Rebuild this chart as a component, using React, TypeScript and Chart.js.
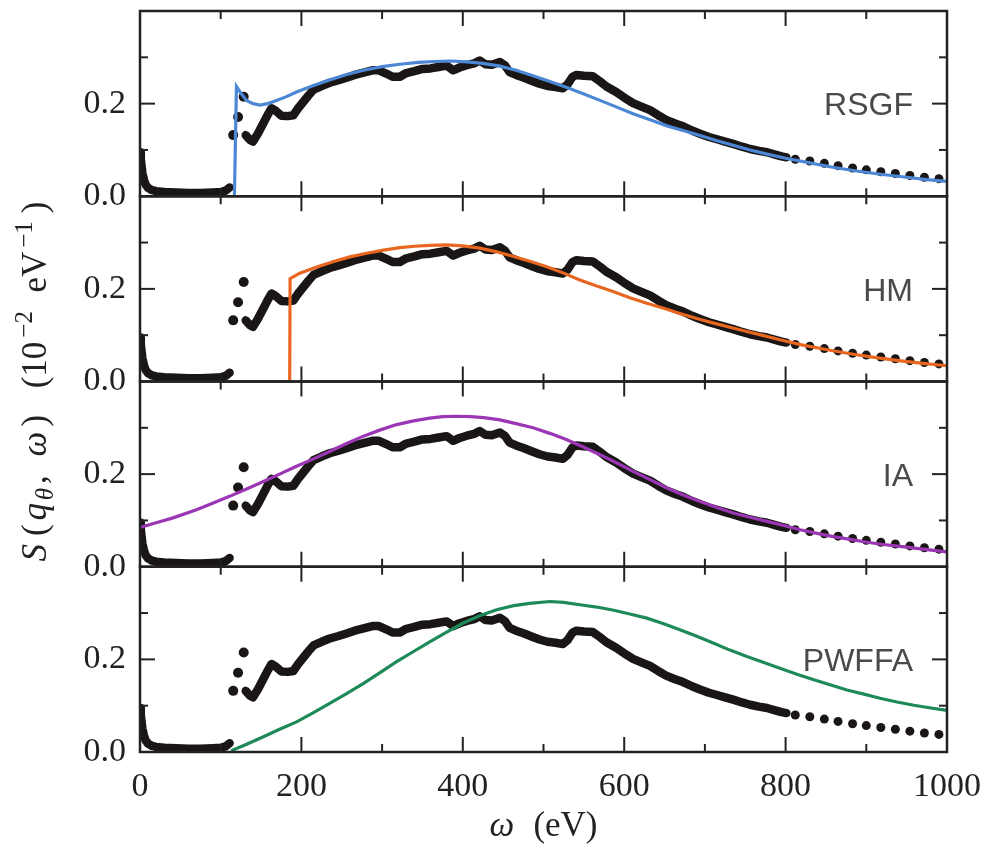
import { useEffect, useRef } from 'react';
import { Chart, registerables } from 'chart.js';

Chart.register(...registerables);

// ---------- data ----------
const xTickValues = [0, 200, 400, 600, 800, 1000];
const yLabelValues = [0, 0.2];
const panelNames = ['RSGF', 'HM', 'IA', 'PWFFA'];
const panelColors = ['#4b87d5', '#e8661f', '#9b36b4', '#1d8a58'];

// experimental data (same in every panel)
const expLowX = [0, 1, 2, 3, 5, 7, 10, 15, 20, 30, 45, 60, 75, 90, 100, 106, 111];
const expLowY = [0.095, 0.08, 0.065, 0.05, 0.035, 0.025, 0.018, 0.013, 0.011, 0.009, 0.008, 0.007, 0.007, 0.008, 0.009, 0.012, 0.019];

const expIsoX = [115.5, 121.5, 128.5];
const expIsoY = [0.132, 0.171, 0.215];

const expMainX = [131, 136, 140, 146, 152, 158, 163, 168, 175, 183, 190, 196, 202, 209, 215, 225, 235, 245, 256, 266, 277, 288, 296, 305, 313, 322, 330, 340, 350, 360, 370, 380, 388, 396, 405, 414, 421, 428, 436, 446, 452, 458, 466, 476, 486, 495, 505, 515, 524, 530, 536, 541, 550, 561, 570, 578, 590, 600, 611, 622, 632, 642, 652, 663, 673, 684, 694, 705, 715, 725, 735, 746, 756, 767, 777, 787, 795, 801];
const expMainY = [0.132, 0.122, 0.118, 0.135, 0.155, 0.175, 0.19, 0.185, 0.174, 0.173, 0.175, 0.19, 0.203, 0.218, 0.23, 0.238, 0.245, 0.25, 0.256, 0.262, 0.267, 0.272, 0.272, 0.265, 0.258, 0.258, 0.266, 0.27, 0.275, 0.276, 0.279, 0.282, 0.272, 0.278, 0.283, 0.287, 0.293, 0.285, 0.284, 0.29, 0.283, 0.268, 0.262, 0.256, 0.249, 0.243, 0.238, 0.236, 0.233, 0.242, 0.258, 0.262, 0.26, 0.259, 0.248, 0.237, 0.225, 0.213, 0.201, 0.193, 0.186, 0.175, 0.165, 0.157, 0.151, 0.142, 0.135, 0.128, 0.123, 0.118, 0.113, 0.107, 0.102, 0.098, 0.095, 0.09, 0.086, 0.084];

const expTailX = [812, 830, 848, 865, 883, 900, 918, 936, 954, 972, 990];
const expTailY = [0.08, 0.076, 0.071, 0.066, 0.061, 0.057, 0.053, 0.049, 0.045, 0.041, 0.038];

// model curves
const rsgfX = [117, 119.5, 126, 132, 140, 149, 158, 165, 180, 194, 215, 235, 256, 277, 300, 322, 345, 365, 385, 405, 425, 446, 466, 487, 508, 529, 550, 570, 590, 611, 632, 653, 673, 694, 715, 735, 756, 777, 800, 830, 860, 890, 920, 950, 975, 1000];
const rsgfY = [0, 0.237, 0.22, 0.207, 0.2, 0.197, 0.2, 0.204, 0.214, 0.225, 0.239, 0.251, 0.263, 0.272, 0.28, 0.285, 0.289, 0.291, 0.292, 0.29, 0.287, 0.281, 0.272, 0.26, 0.248, 0.235, 0.221, 0.207, 0.193, 0.178, 0.165, 0.152, 0.142, 0.131, 0.12, 0.11, 0.1, 0.091, 0.082, 0.072, 0.062, 0.054, 0.047, 0.041, 0.036, 0.032];

const hmX = [185.5, 186, 198, 220, 240, 260, 281, 300, 322, 340, 360, 380, 400, 421, 442, 463, 484, 504, 525, 545, 566, 587, 607, 628, 649, 669, 690, 711, 731, 752, 773, 793, 820, 850, 880, 910, 940, 970, 1000];
const hmY = [0, 0.222, 0.234, 0.248, 0.259, 0.269, 0.277, 0.283, 0.289, 0.292, 0.294, 0.295, 0.293, 0.288, 0.28, 0.27, 0.259, 0.248, 0.234, 0.219, 0.206, 0.194, 0.181, 0.169, 0.158, 0.147, 0.136, 0.126, 0.117, 0.108, 0.099, 0.09, 0.079, 0.069, 0.06, 0.052, 0.045, 0.039, 0.034];

const iaX = [0, 20, 40, 70, 90, 111, 132, 153, 173, 194, 215, 235, 256, 277, 297, 318, 339, 359, 375, 392, 410, 426, 446, 466, 487, 508, 529, 550, 570, 591, 611, 632, 653, 673, 694, 715, 735, 756, 777, 798, 818, 839, 859, 880, 901, 921, 942, 970, 1000];
const iaY = [0.085, 0.095, 0.105, 0.123, 0.137, 0.152, 0.168, 0.184, 0.2, 0.217, 0.233, 0.249, 0.266, 0.282, 0.295, 0.307, 0.315, 0.321, 0.324, 0.325, 0.324, 0.322, 0.317, 0.309, 0.3, 0.288, 0.274, 0.258, 0.242, 0.224, 0.206, 0.188, 0.17, 0.155, 0.141, 0.128, 0.116, 0.107, 0.098, 0.089, 0.08, 0.072, 0.065, 0.059, 0.053, 0.048, 0.044, 0.038, 0.032];

const pwffaX = [113, 130, 153, 173, 194, 215, 235, 256, 277, 297, 318, 339, 359, 380, 400, 421, 442, 463, 483, 508, 525, 545, 566, 587, 607, 628, 649, 669, 690, 711, 731, 752, 773, 793, 814, 835, 855, 876, 897, 917, 938, 959, 980, 1000];
const pwffaY = [0.003, 0.015, 0.033, 0.049, 0.065, 0.085, 0.105, 0.126, 0.148, 0.171, 0.195, 0.217, 0.238, 0.259, 0.278, 0.294, 0.307, 0.316, 0.321, 0.325, 0.323, 0.318, 0.313, 0.306, 0.298, 0.289, 0.277, 0.264, 0.25, 0.235, 0.22, 0.206, 0.193, 0.181, 0.168, 0.156, 0.145, 0.134, 0.125, 0.116, 0.108, 0.101, 0.095, 0.09];

const modelX = [rsgfX, hmX, iaX, pwffaX];
const modelY = [rsgfY, hmY, iaY, pwffaY];

const zip = (xs: number[], ys: number[]) => xs.map((x, i) => ({ x, y: ys[i] }));

const DOT = '#1a1616';
const FRAME = '#222222';
const SERIF = '"Liberation Serif", "DejaVu Serif", serif';
const SANS = '"Liberation Sans", Arial, sans-serif';

// g = relative weight of extra spacing placed before the part
type Part = { t: string; font: string; dy: number; g: number };

function drawParts(ctx: CanvasRenderingContext2D, parts: Part[], cx: number, cy: number, target: number, rotate: boolean) {
  ctx.save();
  ctx.translate(cx, cy);
  if (rotate) ctx.rotate(-Math.PI / 2);
  const widths = parts.map((p) => {
    ctx.font = p.font;
    return ctx.measureText(p.t).width;
  });
  const natural = widths.reduce((a, b) => a + b, 0);
  const wsum = parts.reduce((a, p) => a + p.g, 0);
  const unit = wsum > 0 ? Math.max(0, (target - natural) / wsum) : 0;
  const total = natural + unit * wsum;
  let x = -total / 2;
  ctx.textAlign = 'left';
  ctx.textBaseline = 'alphabetic';
  ctx.fillStyle = '#222';
  parts.forEach((p, i) => {
    x += p.g * unit;
    ctx.font = p.font;
    ctx.fillText(p.t, x, p.dy);
    x += widths[i];
  });
  ctx.restore();
}

const panelIds = ['y1', 'y2', 'y3', 'y4'];

const decoPlugin = {
  id: 'deco',
  afterDraw(chart: any) {
    const ctx: CanvasRenderingContext2D = chart.ctx;
    const xs = chart.scales.x;
    const { left, right } = chart.chartArea;
    ctx.save();
    const line = (x1: number, y1: number, x2: number, y2: number) => {
      ctx.beginPath();
      ctx.moveTo(x1, y1);
      ctx.lineTo(x2, y2);
      ctx.stroke();
    };
    panelIds.forEach((id, i) => {
      const ys = chart.scales[id];
      const top = ys.top;
      const bottom = ys.bottom;
      ctx.strokeStyle = FRAME;
      ctx.lineWidth = 2;
      for (let v = 0; v <= 1000; v += 100) {
        const px = xs.getPixelForValue(v);
        const len = v % 200 === 0 ? 15 : 8;
        line(px, top, px, top + len);
        line(px, bottom, px, bottom - len);
      }
      [0.1, 0.2, 0.3].forEach((v) => {
        const py = ys.getPixelForValue(v);
        const len = Math.abs(v - 0.2) < 1e-9 ? 15 : 8;
        line(left, py, left + len, py);
        line(right, py, right - len, py);
      });
      ctx.lineWidth = 2.5;
      ctx.strokeRect(left, top, right - left, bottom - top);
      ctx.font = '32px ' + SANS;
      ctx.fillStyle = '#4a4a4a';
      ctx.textAlign = 'right';
      ctx.textBaseline = 'middle';
      ctx.fillText(panelNames[i], right - 34, ys.getPixelForValue(0.2) + 3);
    });

    const f = 35;
    const it = `italic ${f}px ${SERIF}`;
    const up = `${f}px ${SERIF}`;
    const smIt = `italic ${Math.round(f * 0.7)}px ${SERIF}`;
    const smUp = `${Math.round(f * 0.7)}px ${SERIF}`;
    // y-axis title
    const yParts: Part[] = [
      { t: 'S', font: it, dy: 0, g: 0 },
      { t: '(', font: up, dy: 0, g: 0.6 },
      { t: 'q', font: it, dy: 0, g: 0.3 },
      { t: 'θ', font: smIt, dy: 7, g: 0.2 },
      { t: ',', font: up, dy: 0, g: 0.3 },
      { t: 'ω', font: it, dy: 0, g: 1.4 },
      { t: ')', font: up, dy: 0, g: 0.4 },
      { t: '(10', font: up, dy: 0, g: 2 },
      { t: '−2', font: smUp, dy: -14, g: 0.3 },
      { t: 'eV', font: up, dy: 0, g: 1.4 },
      { t: '−1', font: smUp, dy: -14, g: 0.3 },
      { t: ')', font: up, dy: 0, g: 0.6 },
    ];
    drawParts(ctx, yParts, 46, (chart.chartArea.top + chart.chartArea.bottom) / 2, 360, true);
    // x-axis title
    const xParts: Part[] = [
      { t: 'ω', font: it, dy: 0, g: 0 },
      { t: ' (eV)', font: up, dy: 0, g: 1 },
    ];
    drawParts(ctx, xParts, (left + right) / 2, 836, 108, false);
    ctx.restore();
  },
};

export default function App() {
  const ref = useRef<HTMLCanvasElement>(null);

  useEffect(() => {
    if (!ref.current) return;
    const datasets: any[] = [];
    panelIds.forEach((id, i) => {
      datasets.push({
        type: 'line',
        label: panelNames[i],
        data: zip(modelX[i], modelY[i]),
        yAxisID: id,
        xAxisID: 'x',
        borderColor: panelColors[i],
        borderWidth: 3.2,
        pointRadius: 0,
        tension: 0,
        order: 0,
      });
      const band = {
        type: 'line',
        yAxisID: id,
        xAxisID: 'x',
        borderColor: DOT,
        borderWidth: 8.5,
        borderJoinStyle: 'round',
        borderCapStyle: 'round',
        pointRadius: 0,
        tension: 0,
        order: 1,
      };
      datasets.push({ ...band, label: 'exp low', data: zip(expLowX, expLowY) });
      datasets.push({ ...band, label: 'exp main', data: zip(expMainX, expMainY) });
      const dots = {
        type: 'line',
        yAxisID: id,
        xAxisID: 'x',
        showLine: false,
        pointBorderWidth: 0,
        pointBackgroundColor: DOT,
        pointBorderColor: DOT,
        order: 1,
      };
      datasets.push({ ...dots, pointRadius: 5, label: 'exp iso', data: zip(expIsoX, expIsoY) });
      datasets.push({ ...dots, pointRadius: 4.5, label: 'exp tail', data: zip(expTailX, expTailY) });
    });

    const noPad = (s: any) => {
      s.paddingTop = 0;
      s.paddingBottom = 0;
      s.paddingLeft = 0;
      s.paddingRight = 0;
    };

    const scales: any = {
      x: {
        type: 'linear',
        position: 'bottom',
        min: 0,
        max: 1000,
        afterBuildTicks: (s: any) => {
          s.ticks = xTickValues.map((v) => ({ value: v }));
        },
        ticks: {
          autoSkip: false,
          maxRotation: 0,
          padding: 15,
          color: '#222',
          font: { family: SERIF, size: 34 },
          callback: (v: any) => String(v),
        },
        grid: { display: false, drawTicks: false, tickLength: 0 },
        border: { display: false },
        afterFit: (s: any) => {
          s.height = 100;
          noPad(s);
        },
      },
    };
    panelIds.forEach((id, i) => {
      scales[id] = {
        type: 'linear',
        position: 'left',
        stack: 'panels',
        stackWeight: 1,
        weight: 4 - i,
        min: 0,
        max: 0.4,
        afterBuildTicks: (s: any) => {
          s.ticks = yLabelValues.map((v) => ({ value: v }));
        },
        ticks: {
          autoSkip: false,
          padding: 14,
          color: '#222',
          font: { family: SERIF, size: 34 },
          callback: (v: any) => Number(v).toFixed(1),
        },
        grid: { display: false, drawTicks: false, tickLength: 0 },
        border: { display: false },
        afterFit: (s: any) => {
          s.width = 140;
          noPad(s);
        },
      };
    });

    const chart = new Chart(ref.current, {
      type: 'line',
      data: { datasets },
      options: {
        animation: false,
        responsive: false,
        devicePixelRatio: 1,
        parsing: false as any,
        layout: { padding: { top: 11, right: 36, left: 0, bottom: 0 } },
        plugins: { legend: { display: false }, tooltip: { enabled: false } },
        scales,
      } as any,
      plugins: [decoPlugin],
    });
    return () => chart.destroy();
  }, []);

  return (
    <div style={{ position: 'absolute', left: 0, top: 0, width: 983, height: 852, background: '#fff' }}>
      <canvas ref={ref} width={983} height={852} style={{ display: 'block' }} />
    </div>
  );
}
